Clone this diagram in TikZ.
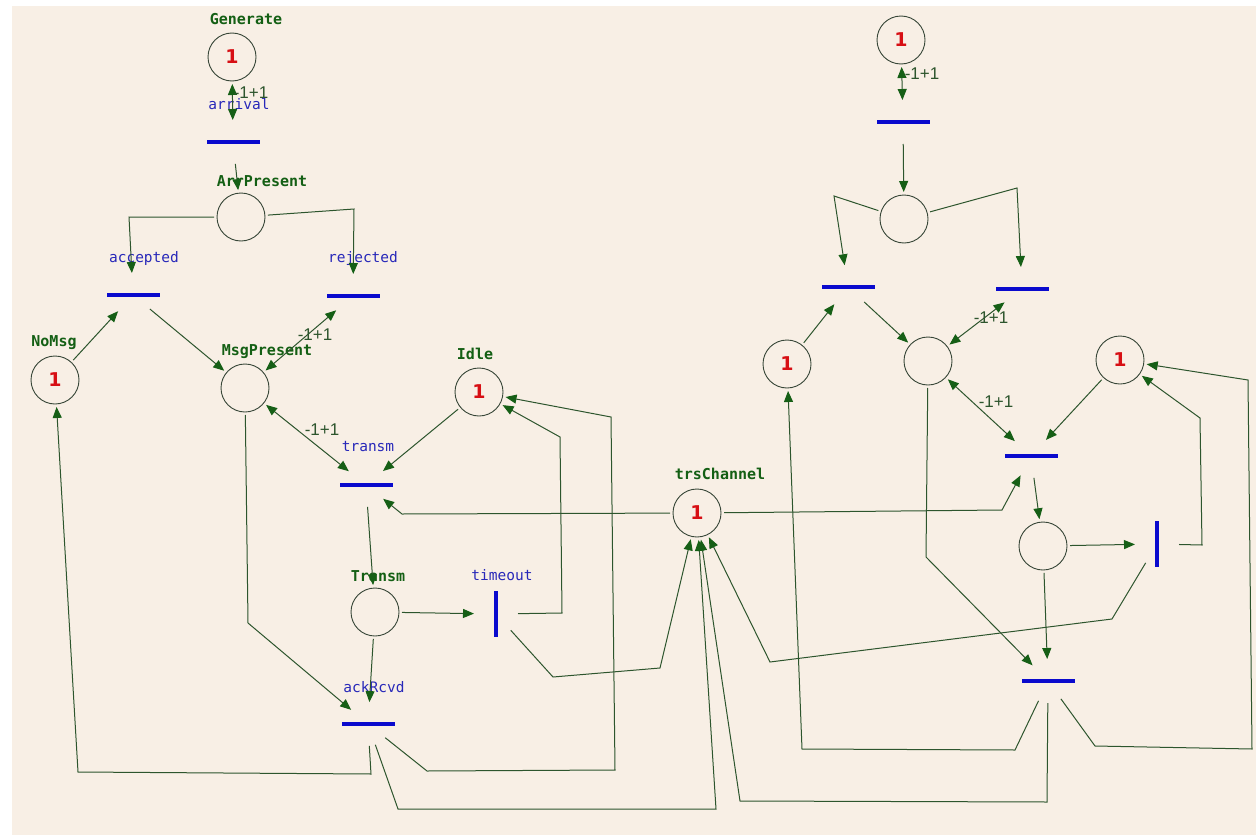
\documentclass[tikz,border=0pt]{standalone}
\usepackage{fontspec}
\usetikzlibrary{arrows.meta,calc}
\newfontfamily\netmono{DejaVu Sans Mono}
\newfontfamily\netsans{Liberation Sans}
\newfontfamily\nettoken{DejaVu Sans}

\definecolor{bgc}{RGB}{248,239,229}
\definecolor{placeline}{RGB}{55,70,55}
\definecolor{arcline}{RGB}{45,85,45}
\definecolor{arrowgreen}{RGB}{22,95,22}
\definecolor{namegreen}{RGB}{20,95,20}
\definecolor{barblue}{RGB}{10,10,205}
\definecolor{lblblue}{RGB}{40,40,185}
\definecolor{tokred}{RGB}{215,15,20}

\tikzset{
  ptip/.tip={Triangle[length=11pt,width=9pt,color=arrowgreen,fill=arrowgreen]},
  place/.style={circle,draw=placeline,line width=0.9pt,minimum size=48pt,inner sep=0pt,
    outer sep=3pt,font=\nettoken\bfseries\fontsize{19}{19}\selectfont,text=tokred},
  trn/.style={circle,minimum size=44pt,inner sep=0pt,outer sep=0pt},
  hbar/.style={fill=barblue,minimum width=53pt,minimum height=4.5pt,inner sep=0pt,outer sep=0pt},
  vbar/.style={fill=barblue,minimum width=4.5pt,minimum height=46pt,inner sep=0pt,outer sep=0pt},
  pname/.style={font=\netmono\bfseries\fontsize{15}{15}\selectfont,text=namegreen,inner sep=0pt},
  tname/.style={font=\netmono\fontsize{14.5}{14.5}\selectfont,text=lblblue,inner sep=0pt},
  mult/.style={font=\netsans\fontsize{17}{17}\selectfont,text=arcline,inner sep=0pt},
  flow/.style={draw=arcline,line width=1pt,-ptip},
  dflow/.style={draw=arcline,line width=1pt,ptip-ptip},
}

% horizontal and vertical transitions: a round clipping node plus the bar
\newcommand{\htrans}[2]{\node[trn] (#1) at (#2) {}; \node[hbar] (#1-bar) at (#1.center) {};}
\newcommand{\vtrans}[2]{\node[trn] (#1) at (#2) {}; \node[vbar] (#1-bar) at (#1.center) {};}

\begin{document}
\begin{tikzpicture}[x=1pt,y=-1pt]
\useasboundingbox (0,0) rectangle (1256,835);
\fill[white] (0,0) rectangle (1256,835);
\fill[bgc] (12,6) rectangle (1256,835);

% ---------- labels ----------
\node[pname] (lgen)    at (246,19)  {Generate};
\node[pname] (larrp)   at (262,181) {ArrPresent};
\node[pname] (lnomsg)  at (54,343)  {NoMsg};
\node[pname] (lmsgp)   at (267,352) {MsgPresent};
\node[pname] (lidle)   at (475,354) {Idle};
\node[pname] (ltransm) at (378,576) {Transm};
\node[pname] (ltrs)    at (720,474) {trsChannel};

\node[tname] (larrival) at (239,104) {arrival};
\node[tname] (lacc)     at (144,258) {accepted};
\node[tname] (lrej)     at (363,258) {rejected};
\node[tname] (ltrm)     at (368,447) {transm};
\node[tname] (ltmo)     at (502,575) {timeout};
\node[tname] (lack)     at (374,687) {ackRcvd};

% ---------- places ----------
\node[place] (gen)     at (232,57)  {1};
\node[place] (arrp)    at (241,217) {};
\node[place] (nomsg)   at (55,380)  {1};
\node[place] (msgp)    at (245,388) {};
\node[place] (idle)    at (479,392) {1};
\node[place] (transmp) at (375,612) {};
\node[place] (trs)     at (697,513) {1};

\node[place] (q1) at (901,40)   {1};
\node[place] (q2) at (904,219)  {};
\node[place] (q3) at (787,364)  {1};
\node[place] (q4) at (928,361)  {};
\node[place] (q5) at (1120,360) {1};
\node[place] (q6) at (1043,546) {};

% ---------- transitions ----------
\htrans{arr}{233,142}
\htrans{acc}{133,295}
\htrans{rej}{353,296}
\htrans{trm}{366,485}
\vtrans{tmo}{496,614}
\htrans{ack}{368,724}

\htrans{u1}{903,122}
\htrans{u2}{848,287}
\htrans{u3}{1022,289}
\htrans{u4}{1031,456}
\vtrans{u5}{1157,544}
\htrans{u6}{1048,681}

% ---------- arcs, left net ----------
\draw[dflow] (gen) -- (arr);
\draw[flow] (arr) -- (arrp);
\draw[flow] (arrp) -- (129,217) -- (acc);
\draw[flow] (arrp) -- (354,209) -- (rej);
\draw[flow] (nomsg) -- (acc);
\draw[flow] (acc) -- (msgp);
\draw[dflow] (rej) -- (msgp);
\draw[dflow] (msgp) -- (trm);
\draw[flow] (idle) -- (trm);
\draw[flow] (trs) -- (402,514) -- (trm);
\draw[flow] (trm) -- (transmp);
\draw[flow] (transmp) -- (tmo);
\draw[flow] (tmo) -- (562,613) -- (560,437) -- (idle);
\draw[flow] (tmo) -- (553,677) -- (660,668) -- (trs);
\draw[flow] (ack) -- (427,771) -- (615,770) -- (611,417) -- (idle);
\draw[flow] (ack) -- (371,774) -- (78,772) -- (nomsg);
\draw[flow] (ack) -- (398,809) -- (716,809) -- (trs);
\draw[flow] (msgp) -- (248,623) -- (ack);
\draw[flow] (transmp) -- (ack);

% ---------- arcs, right net ----------
\draw[dflow] (q1) -- (u1);
\draw[flow] (u1) -- (q2);
\draw[flow] (q2) -- (834,196) -- (u2);
\draw[flow] (q2) -- (1017,188) -- (u3);
\draw[flow] (q3) -- (u2);
\draw[flow] (u2) -- (q4);
\draw[dflow] (u3) -- (q4);
\draw[dflow] (q4) -- (u4);
\draw[flow] (q5) -- (u4);
\draw[flow] (trs) -- (1002,510) -- (u4);
\draw[flow] (u4) -- (q6);
\draw[flow] (q6) -- (u5);
\draw[flow] (u5) -- (1202,545) -- (1200,418) -- (q5);
\draw[flow] (u5) -- (1112,619) -- (770,662) -- (trs);
\draw[flow] (q6) -- (u6);
\draw[flow] (q4) -- (926,557) -- (u6);
\draw[flow] (u6) -- (1015,750) -- (802,749) -- (q3);
\draw[flow] (u6) -- (1095,746) -- (1252,749) -- (1248,380) -- (q5);
\draw[flow] (u6) -- (1047,802) -- (740,801) -- (trs);

% ---------- arc multiplicities ----------
\node[mult] (m1) at (251,93)  {-1+1};
\node[mult] (m2) at (315,335) {-1+1};
\node[mult] (m3) at (322,430) {-1+1};
\node[mult] (m4) at (922,74)  {-1+1};
\node[mult] (m5) at (991,318) {-1+1};
\node[mult] (m6) at (996,402) {-1+1};
\end{tikzpicture}
\end{document}
